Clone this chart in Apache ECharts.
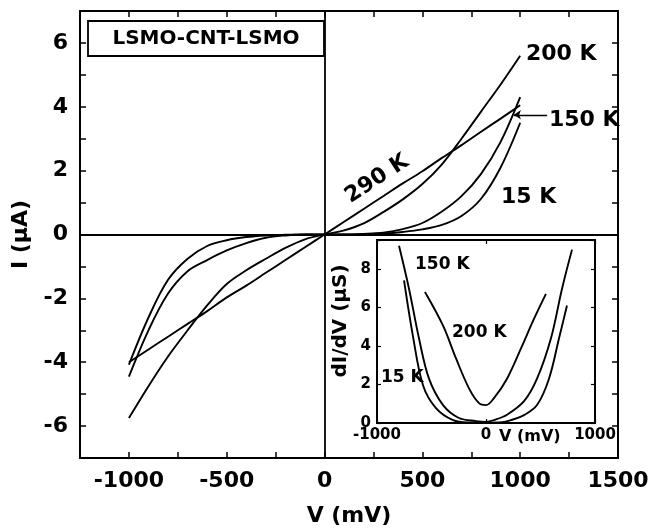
<!DOCTYPE html>
<html>
<head>
<meta charset="utf-8">
<script src="https://cdn.jsdelivr.net/npm/echarts@6/dist/echarts.min.js"></script>
<style>html,body{margin:0;padding:0;background:#fff}#c{width:649px;height:531px}</style>
</head>
<body>
<div id="c"></div>
<script>
// ---- main I-V data (V in mV, I in µA) ----
const voltages = [-1000,-900,-800,-700,-600,-500,-400,-300,-200,-100,0,100,200,300,400,500,600,700,800,900,1000];
const current290K = [-4.0,-3.6,-3.2,-2.8,-2.4,-1.97,-1.6,-1.2,-0.8,-0.4,0,0.4,0.8,1.2,1.6,1.98,2.4,2.8,3.22,3.63,4.05];
const current200K = [-5.75,-4.75,-3.82,-3.0,-2.22,-1.55,-1.12,-0.76,-0.42,-0.15,0,0.13,0.35,0.7,1.1,1.58,2.2,3.0,3.85,4.7,5.6];
const current150K = [-4.45,-3.0,-1.85,-1.15,-0.8,-0.5,-0.27,-0.1,-0.03,0,0,0,0.02,0.06,0.17,0.36,0.72,1.2,1.9,2.9,4.3];
const current15K  = [-4.08,-2.6,-1.42,-0.76,-0.36,-0.18,-0.08,-0.03,-0.01,0,0,0,0.01,0.03,0.08,0.16,0.3,0.58,1.12,2.1,3.5];

// ---- inset dI/dV data (V in mV, dI/dV in µS) ----
const insetV150 = [-798,-706,-615,-523,-394,-248,-92,0,73,193,349,468,596,697,789];
const insetG150 = [9.2,6.96,4.4,2.3,0.93,0.26,0.1,0.06,0.15,0.43,1.13,2.3,4.4,6.96,9.0];
const insetV15  = [-752,-670,-578,-459,-303,-150,0,150,229,349,468,578,670,743];
const insetG15  = [7.4,4.5,1.96,0.77,0.15,0.03,0.02,0.04,0.15,0.41,0.93,2.3,4.4,6.1];
const insetV200 = [-560,-394,-275,-156,-64,0,73,193,321,440,550];
const insetG200 = [6.8,5.05,3.35,1.8,1.03,0.93,1.29,2.3,3.87,5.4,6.7];

// ---- tick labels ----
const mainXTicks = [-1000,-500,0,500,1000,1500];
const mainYTicks = [-6,-4,-2,0,2,4,6];
const insetXTicks = [-1000,0,1000];
const insetYTicks = [0,2,4,6,8];

const FONT = 'DejaVu Sans';
const pair = (xs, ys) => xs.map((x, i) => [x, ys[i]]);

const chart = echarts.init(document.getElementById('c'), null, {renderer: 'canvas'});

const axisCommon = {
  axisLine: {show: true, onZero: false, lineStyle: {color: '#000', width: 2}},
  axisTick: {show: true, inside: true, length: 6, lineStyle: {color: '#000', width: 1.5}},
  splitLine: {show: false}
};
const insetTick = {show: true, inside: true, length: 4, lineStyle: {color: '#000', width: 1.2}};

const lineSeries = (name, data, xi, yi) => ({
  name, type: 'line', data, xAxisIndex: xi, yAxisIndex: yi,
  showSymbol: false, smooth: 0.35, silent: true,
  lineStyle: {color: '#000', width: 1.9}, itemStyle: {color: '#000'}, z: 3
});

const txt = (x, y, text, size, extra) => Object.assign({
  type: 'text', x, y, z: 11,
  style: {text, font: 'bold ' + size + 'px "DejaVu Sans"', fill: '#000', align: 'left', verticalAlign: 'middle'}
}, extra || {});

const option = {
  backgroundColor: '#fff',
  animation: false,
  grid: [
    {left: 80, top: 11, width: 538, height: 447, containLabel: false, outerBoundsMode: 'none'},
    {left: 377, top: 240, width: 218, height: 183, containLabel: false, outerBoundsMode: 'none',
      show: true, backgroundColor: '#fff', borderColor: '#000', borderWidth: 2, z: 5}
  ],
  xAxis: [
    Object.assign({}, axisCommon, {type: 'value', gridIndex: 0, position: 'bottom', min: -1250, max: 1500, interval: 250,
      name: 'V (mV)', nameLocation: 'middle', nameGap: 47,
      nameTextStyle: {fontFamily: FONT, fontWeight: 'bold', fontSize: 22, color: '#000'},
      axisLabel: {margin: 12, fontFamily: FONT, fontWeight: 'bold', fontSize: 22, color: '#000',
        formatter: v => mainXTicks.includes(v) ? String(v) : ''}}),
    Object.assign({}, axisCommon, {type: 'value', gridIndex: 0, position: 'top', min: -1250, max: 1500, interval: 250,
      axisLabel: {show: false}}),
    Object.assign({}, axisCommon, {type: 'value', gridIndex: 1, position: 'bottom', min: -1000, max: 1000, interval: 1000, z: 6,
      axisTick: insetTick,
      axisLabel: {margin: 5, fontFamily: FONT, fontWeight: 'bold', fontSize: 15, color: '#000',
        formatter: v => insetXTicks.includes(v) ? String(v) : ''}}),
    Object.assign({}, axisCommon, {type: 'value', gridIndex: 1, position: 'top', min: -1000, max: 1000, interval: 1000, z: 6,
      axisTick: insetTick, axisLabel: {show: false}})
  ],
  yAxis: [
    Object.assign({}, axisCommon, {type: 'value', gridIndex: 0, position: 'left', min: -7, max: 7, interval: 1,
      name: 'I (\u00b5A)', nameLocation: 'middle', nameGap: 32, nameRotate: 90,
      nameTextStyle: {fontFamily: FONT, fontWeight: 'bold', fontSize: 22, color: '#000'},
      axisLabel: {margin: 12, fontFamily: FONT, fontWeight: 'bold', fontSize: 22, color: '#000',
        formatter: v => mainYTicks.includes(v) ? String(v) : ''}}),
    Object.assign({}, axisCommon, {type: 'value', gridIndex: 0, position: 'right', min: -7, max: 7, interval: 1,
      axisLabel: {show: false}}),
    Object.assign({}, axisCommon, {type: 'value', gridIndex: 1, position: 'left', min: 0, max: 9.5, interval: 2, z: 6,
      axisTick: insetTick,
      axisLabel: {margin: 6, fontFamily: FONT, fontWeight: 'bold', fontSize: 15, color: '#000',
        formatter: v => insetYTicks.includes(v) ? String(v) : ''}}),
    Object.assign({}, axisCommon, {type: 'value', gridIndex: 1, position: 'right', min: 0, max: 9.5, interval: 2, z: 6,
      axisTick: insetTick, axisLabel: {show: false}})
  ],
  series: [
    Object.assign(lineSeries('290 K', pair(voltages, current290K), 0, 0), {
      markLine: {
        silent: true, symbol: ['none', 'none'], animation: false,
        label: {show: false},
        lineStyle: {color: '#000', width: 1.8, type: 'solid'},
        data: [
          {yAxis: 0},
          {xAxis: 0},
          [{coord: [1138, 3.75], symbol: 'none'}, {coord: [968, 3.75], symbol: 'arrow', symbolSize: 7, lineStyle: {width: 1.3}}]
        ]
      }
    }),
    lineSeries('200 K', pair(voltages, current200K), 0, 0),
    lineSeries('150 K', pair(voltages, current150K), 0, 0),
    lineSeries('15 K', pair(voltages, current15K), 0, 0),
    Object.assign(lineSeries('150 K inset', pair(insetV150, insetG150), 2, 2), {z: 7}),
    Object.assign(lineSeries('15 K inset', pair(insetV15, insetG15), 2, 2), {z: 7}),
    Object.assign(lineSeries('200 K inset', pair(insetV200, insetG200), 2, 2), {z: 7})
  ],
  graphic: [
    {type: 'rect', shape: {x: 88, y: 21, width: 236, height: 35}, style: {fill: '#fff', stroke: '#000', lineWidth: 1.8}, z: 10},
    txt(206, 39, 'LSMO-CNT-LSMO', 20, {style: {text: 'LSMO-CNT-LSMO', font: 'bold 20px "DejaVu Sans"', fill: '#000', align: 'center', verticalAlign: 'middle'}}),
    txt(526, 54, '200 K', 22),
    txt(549, 120, '150 K', 22),
    txt(501, 197, '15 K', 22),
    txt(377, 179, '290 K', 22, {rotation: 0.58, style: {text: '290 K', font: 'bold 22px "DejaVu Sans"', fill: '#000', align: 'center', verticalAlign: 'middle'}}),
    txt(415, 265, '150 K', 17),
    txt(452, 333, '200 K', 17),
    txt(381, 378, '15 K', 17),
    txt(499, 437, 'V (mV)', 16),
    txt(341, 321, 'dI/dV (\u00b5S)', 20, {rotation: Math.PI / 2, style: {text: 'dI/dV (\u00b5S)', font: 'bold 20px "DejaVu Sans"', fill: '#000', align: 'center', verticalAlign: 'middle'}})
  ]
};
chart.setOption(option);
</script>
</body>
</html>
